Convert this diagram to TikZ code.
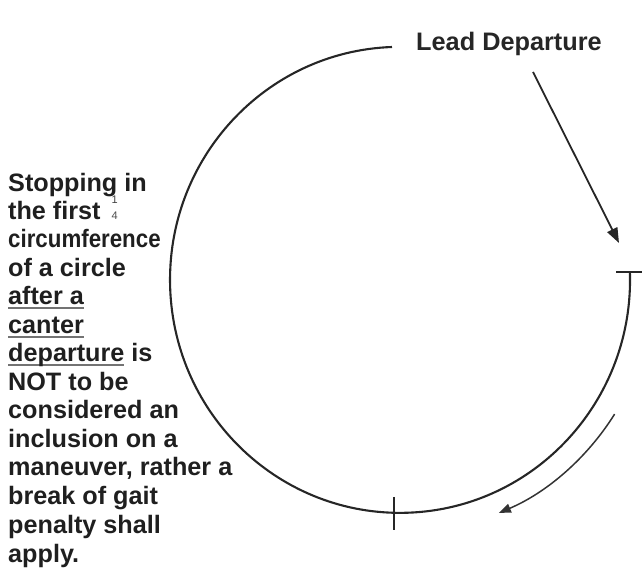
\documentclass[tikz,border=0pt]{standalone}
\usepackage{fontspec}
\usepackage{graphicx}
\setmainfont{Liberation Sans}
\usetikzlibrary{arrows.meta}
\newcommand{\gul}[1]{\setbox0\hbox{#1}\rlap{\color{black!55}\rule[-4.5pt]{\wd0}{2pt}}\box0\relax}
\tikzset{
  txt/.style={anchor=base west, inner sep=0pt, font=\bfseries\fontsize{25.2}{28}\selectfont, text=black!88},
  ttl/.style={anchor=base west, inner sep=0pt, font=\bfseries\fontsize{25.3}{28}\selectfont, text=black!85},
  ring/.style={line width=2.1pt, draw=black!85},
  pointer/.style={line width=1.8pt, draw=black!85, -{Triangle[length=15pt,width=11pt]}},
  flow/.style={line width=1.5pt, draw=black!80, -{Triangle[length=12pt,width=9pt]}},
  tick/.style={line width=2.1pt, draw=black!85}
}
\begin{document}
\begin{tikzpicture}[x=1pt,y=1pt]
\useasboundingbox (0,0) rectangle (642,570);
% circle (open arc)
\coordinate (ctr) at (400,290);
\draw[ring] (392,523) arc[start angle=92, end angle=362, x radius=230, y radius=233];
% T mark at right end
\coordinate (tl) at (616,298);
\coordinate (tr) at (642,298);
\draw[tick] (tl) -- (tr);
% bottom tick
\coordinate (bt) at (394,73);
\coordinate (bb) at (394,40);
\draw[tick] (bt) -- (bb);
% lead departure label and pointer
\node[ttl] (lead) at (416,519) {Lead Departure};
\coordinate (leadtail) at (533,498);
\coordinate (leadtip) at (619,327);
\draw[pointer] (leadtail) -- (leadtip);
% direction arrow
\coordinate (flowstart) at (614.6,155.9);
\draw[flow] (flowstart) arc[start angle=-32, end angle=-67, radius=253];
% left text
\node[txt] (l1) at (8,378) {Stopping in};
\node[txt] (l2) at (8,350) {the first \hspace{4pt}\rlap{\raisebox{16pt}{\mdseries\color{black!75}\fontsize{11}{11}\selectfont 1}}{\mdseries\color{black!70}\fontsize{11}{11}\selectfont 4}};
\node[txt] (l3) at (8,322) {\scalebox{0.885}[1]{circumference}};
\node[txt] (l4) at (8,293) {of a circle};
\node[txt] (l5) at (8,265) {\gul{after a}};
\node[txt] (l6) at (8,236) {\gul{canter}};
\node[txt] (l7) at (8,208) {\gul{departure} is};
\node[txt] (l8) at (8,179) {NOT to be};
\node[txt] (l9) at (8,151) {considered an};
\node[txt] (l10) at (8,122) {inclusion on a};
\node[txt] (l11) at (8,94) {maneuver, rather a};
\node[txt] (l12) at (8,65) {break of gait};
\node[txt] (l13) at (8,37) {penalty shall};
\node[txt] (l14) at (8,8) {apply.};
\end{tikzpicture}
\end{document}
